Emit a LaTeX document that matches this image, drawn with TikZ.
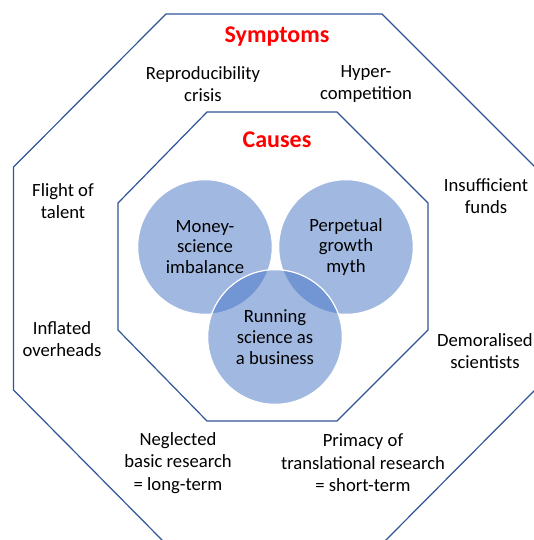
\documentclass[tikz,border=0pt]{standalone}
\usepackage{fontspec}
\setmainfont{Carlito}
\definecolor{octline}{RGB}{47,85,151}
\definecolor{venn}{RGB}{68,114,196}
\begin{document}
\begin{tikzpicture}[x=0.75pt,y=-0.75pt,
    octagon/.style={draw=octline,line width=0.9pt},
    cause/.style={circle,fill=venn,fill opacity=0.5,text opacity=1,draw=white,line width=0.9pt,
      minimum size=101pt,inner sep=0pt,align=center,font=\fontsize{14}{15.5}\selectfont},
    symptom/.style={align=center,font=\fontsize{14}{16.8}\selectfont},
    heading/.style={text=red,font=\fontsize{18}{21}\selectfont\bfseries}]
      \useasboundingbox (0,0) rectangle (533,540);

      \draw[octagon] (166,14) -- (382,14) -- (535,167) -- (535,390) -- (384,542)
        -- (164,542) -- (13.5,390) -- (13.5,167) -- cycle;
      \draw[octagon] (207,112) -- (337,112) -- (428,203) -- (428,330) -- (337,421)
        -- (207,421) -- (118,330) -- (118,203) -- cycle;

      \node[heading] (symptoms) at(277, 37){Symptoms};
      \node[heading] (causes) at(277, 140){Causes};

      \node[symptom] (crisis) at(203, 84){Reproducibility\\crisis};
      \node[symptom] (competition) at(366, 84){Hyper-\\competition};
      \node[symptom] (flight) at(63, 201){Flight of\\talent};
      \node[symptom] (funds) at(486, 196){Insufficient\\funds};
      \node[symptom] (overheads) at(62, 339){Inflated\\overheads};
      \node[symptom] (demoralised) at(485, 351){Demoralised\\scientists};
      \node[symptom] (basic) at(178, 463){Neglected\\basic research\\= long-term};
      \node[symptom] (translational) at(363, 463){Primacy of\\translational research\\= short-term};

      \node[cause] (money) at(205, 247){Money-\\science\\imbalance};
      \node[cause] (growth) at(346, 247){Perpetual\\growth\\myth};
      \node[cause] (business) at(275, 337){Running\\science as\\a business};

    \end{tikzpicture}
\end{document}
